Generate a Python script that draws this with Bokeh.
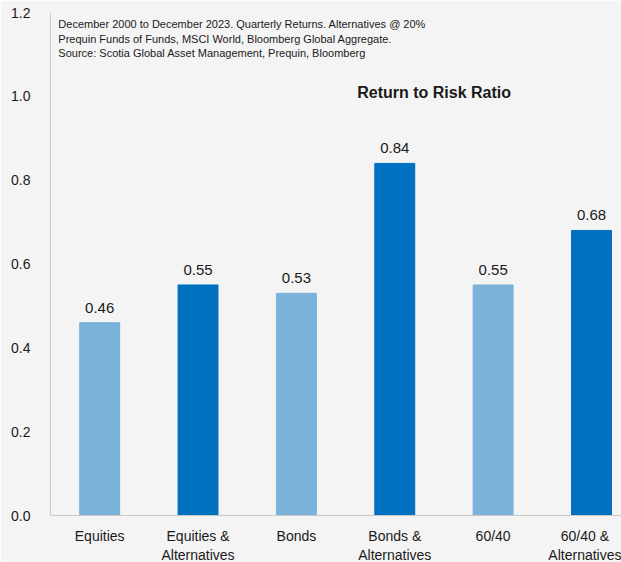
from bokeh.plotting import figure
from bokeh.models import Range1d, FixedTicker, Label, ColumnDataSource
from bokeh.embed import file_html
from bokeh.resources import INLINE

categories = ["Equities", "Equities &\nAlternatives", "Bonds", "Bonds &\nAlternatives",
              "60/40", "60/40 &\nAlternatives"]
values = [0.46, 0.55, 0.53, 0.84, 0.55, 0.68]
colors = ["#7BB2DA", "#0070C0", "#7BB2DA", "#0070C0", "#7BB2DA", "#0070C0"]
y_ticks = [0.0, 0.2, 0.4, 0.6, 0.8, 1.0, 1.2]
title_text = "Return to Risk Ratio"
notes = ("December 2000 to December 2023.  Quarterly Returns. Alternatives @ 20%\n"
         "Prequin Funds of Funds, MSCI World, Bloomberg Global Aggregate.\n"
         "Source: Scotia Global Asset Management, Prequin, Bloomberg")

FONT = "Liberation Sans"
BG = "#F4F4F4"

idx = list(range(len(categories)))
src = ColumnDataSource(dict(x=idx, top=values, color=colors,
                            lab=[f"{v:.2f}" for v in values]))

p = figure(frame_width=571, frame_height=503, output_backend="svg", toolbar_location=None,
           x_range=Range1d(-0.5, 5.305), y_range=Range1d(0, 1.2),
           min_border_left=50, min_border_right=0, min_border_top=12, min_border_bottom=0)
p.background_fill_color = BG
p.border_fill_color = BG
p.outline_line_color = None
p.grid.visible = False

p.vbar(x="x", top="top", width=0.406, color="color", source=src)
p.text(x="x", y="top", text="lab", source=src, text_align="center", text_baseline="bottom",
       y_offset=-10, text_font_size="15px", text_color="#1a1a1a", text_font={"value": FONT})

for ax in (p.xaxis[0], p.yaxis[0]):
    ax.axis_line_color = "#C8C8C8"
    ax.major_tick_line_color = None
    ax.minor_tick_line_color = None
    ax.major_label_text_font = FONT
    ax.major_label_text_font_size = "14px"
    ax.major_label_text_color = "#1a1a1a"

p.xaxis.ticker = FixedTicker(ticks=idx)
p.xaxis.major_label_overrides = {i: c for i, c in zip(idx, categories)}
p.xaxis.major_label_standoff = 6
p.yaxis.ticker = FixedTicker(ticks=y_ticks)
p.yaxis.major_label_overrides = {t: f"{t:.1f}" for t in y_ticks}
p.yaxis.major_label_standoff = 14

p.add_layout(Label(x=-0.42, y=1.186, text=notes, text_font=FONT, text_font_size="11px",
                   text_color="#1a1a1a", text_baseline="top", text_line_height=1.2))
p.add_layout(Label(x=3.4, y=1.009, text=title_text, text_font=FONT, text_font_size="16px",
                   text_font_style="bold", text_color="#1a1a1a", text_align="center",
                   text_baseline="middle"))

open("out.html", "w").write(file_html(p, INLINE))
